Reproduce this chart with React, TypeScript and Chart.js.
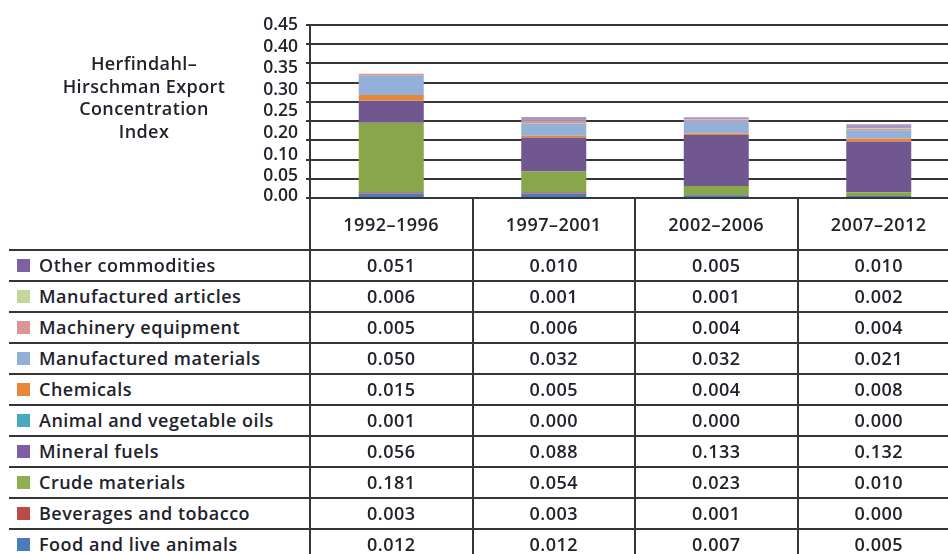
import React, { useEffect, useRef } from 'react';
import { Chart, registerables } from 'chart.js';

Chart.register(...registerables);

// ---------- data ----------
const periods = ['1992–1996', '1997–2001', '2002–2006', '2007–2012'];
const yTickLabels = ['0.45', '0.40', '0.35', '0.30', '0.25', '0.20', '0.10', '0.05', '0.00'];
const yAxisTitle = ['Herfindahl–', 'Hirschman Export', 'Concentration', 'Index'];

const otherCommodities = [0.051, 0.01, 0.005, 0.01];
const manufacturedArticles = [0.006, 0.001, 0.001, 0.002];
const machineryEquipment = [0.005, 0.006, 0.004, 0.004];
const manufacturedMaterials = [0.05, 0.032, 0.032, 0.021];
const chemicals = [0.015, 0.005, 0.004, 0.008];
const animalVegetableOils = [0.001, 0.0, 0.0, 0.0];
const mineralFuels = [0.056, 0.088, 0.133, 0.132];
const crudeMaterials = [0.181, 0.054, 0.023, 0.01];
const beveragesTobacco = [0.003, 0.003, 0.001, 0.0];
const foodLiveAnimals = [0.012, 0.012, 0.007, 0.005];
// the printed first bar stops at machinery equipment
const otherCommoditiesInBars = [0, 0.01, 0.005, 0.01];
const manufacturedArticlesInBars = [0, 0.001, 0.001, 0.002];

type Series = { name: string; values: number[]; bars: number[]; color: string; swatch: string };

// table order (top to bottom)
const series: Series[] = [
  { name: 'Other commodities', values: otherCommodities, bars: otherCommoditiesInBars, color: '#a898c8', swatch: '#7d61a6' },
  { name: 'Manufactured articles', values: manufacturedArticles, bars: manufacturedArticlesInBars, color: '#c3d69b', swatch: '#c3d69b' },
  { name: 'Machinery equipment', values: machineryEquipment, bars: machineryEquipment, color: '#d99694', swatch: '#d99694' },
  { name: 'Manufactured materials', values: manufacturedMaterials, bars: manufacturedMaterials, color: '#93b1d8', swatch: '#93b1d8' },
  { name: 'Chemicals', values: chemicals, bars: chemicals, color: '#e8873a', swatch: '#e8873a' },
  { name: 'Animal and vegetable oils', values: animalVegetableOils, bars: animalVegetableOils, color: '#4aa8bf', swatch: '#4aa8bf' },
  { name: 'Mineral fuels', values: mineralFuels, bars: mineralFuels, color: '#71578f', swatch: '#7b5ea3' },
  { name: 'Crude materials', values: crudeMaterials, bars: crudeMaterials, color: '#89a64b', swatch: '#8fb050' },
  { name: 'Beverages and tobacco', values: beveragesTobacco, bars: beveragesTobacco, color: '#bd4a47', swatch: '#bd4a47' },
  { name: 'Food and live animals', values: foodLiveAnimals, bars: foodLiveAnimals, color: '#4a7cba', swatch: '#4a7cba' },
];

// ---------- layout ----------
const W = 948;
const H = 554;
const PLOT_LEFT = 310;
const COL_W = 162.5;
const PLOT_TOP = 25;
const AXIS_Y = 198;
const CANVAS_W = 980;
const CANVAS_H = 212;
const HEADER_BOTTOM = 250;
const ROW_H = 30.95;
const TABLE_LEFT = 9;
const LINE = '#363636';
const TEXT = '#22222c';
const FONT = '"Open Sans", "Noto Sans", sans-serif';

const cellText: React.CSSProperties = {
  fontSize: 18,
  fontWeight: 600,
  letterSpacing: '0.5px',
  color: TEXT,
};

const yLabelPlugin = {
  id: 'yEvenLabels',
  afterDraw(chart: any) {
    const y = chart.scales.y;
    const top = y.getPixelForValue(parseFloat(yTickLabels[0]));
    const bottom = y.getPixelForValue(parseFloat(yTickLabels[yTickLabels.length - 1]));
    const ctx = chart.ctx;
    ctx.save();
    ctx.font = `600 17.5px ${FONT}`;
    ctx.fillStyle = TEXT;
    ctx.textAlign = 'right';
    ctx.textBaseline = 'middle';
    const step = (bottom - top) / (yTickLabels.length - 1);
    yTickLabels.forEach((t, i) => ctx.fillText(t, y.right - 12, top + i * step - (i === yTickLabels.length - 1 ? 1.5 : 0)));
    ctx.restore();
  },
};

function BarChart() {
  const ref = useRef<HTMLCanvasElement>(null);
  useEffect(() => {
    if (!ref.current) return;
    const datasets = [...series].reverse().map((s) => ({
      label: s.name,
      data: s.bars,
      backgroundColor: s.color,
      borderWidth: 0,
      barPercentage: 0.4,
      categoryPercentage: 1,
    }));
    const chart = new Chart(ref.current, {
      type: 'bar',
      data: { labels: periods, datasets },
      plugins: [yLabelPlugin],
      options: {
        animation: false,
        responsive: false,
        maintainAspectRatio: false,
        layout: {
          padding: { left: 0, top: PLOT_TOP, right: CANVAS_W - PLOT_LEFT - COL_W * 4, bottom: CANVAS_H - AXIS_Y },
        },
        plugins: { legend: { display: false }, tooltip: { enabled: false } },
        scales: {
          x: { stacked: true, display: false },
          y: {
            stacked: true,
            min: 0,
            max: 0.45,
            ticks: { stepSize: 0.05, display: false },
            grid: { color: LINE, lineWidth: 2, tickLength: 4, drawTicks: true },
            border: { display: true, color: LINE, width: 2 },
            afterFit: (s: any) => {
              s.width = PLOT_LEFT;
            },
          },
        },
      },
    });
    return () => chart.destroy();
  }, []);
  return (
    <canvas
      ref={ref}
      width={CANVAS_W}
      height={CANVAS_H}
      style={{ position: 'absolute', left: 0, top: 0, width: CANVAS_W, height: CANVAS_H }}
    />
  );
}

function Table() {
  const els: React.ReactNode[] = [];
  periods.forEach((p, i) => {
    els.push(
      <div
        key={'h' + i}
        style={{
          ...cellText,
          position: 'absolute',
          left: PLOT_LEFT + i * COL_W,
          width: COL_W,
          top: AXIS_Y,
          height: HEADER_BOTTOM - AXIS_Y,
          display: 'flex',
          alignItems: 'center',
          justifyContent: 'center',
        }}
      >
        {p}
      </div>
    );
  });
  for (let r = 0; r <= series.length; r++) {
    els.push(
      <div
        key={'hl' + r}
        style={{ position: 'absolute', left: TABLE_LEFT, width: CANVAS_W, top: HEADER_BOTTOM + r * ROW_H - 1, height: 2, background: LINE }}
      />
    );
  }
  for (let c = 0; c < periods.length; c++) {
    els.push(
      <div
        key={'vl' + c}
        style={{ position: 'absolute', left: PLOT_LEFT + c * COL_W - 1, width: 2, top: AXIS_Y, height: H - AXIS_Y, background: LINE }}
      />
    );
  }
  series.forEach((s, r) => {
    const top = HEADER_BOTTOM + r * ROW_H;
    els.push(
      <div
        key={'lab' + r}
        style={{
          ...cellText,
          position: 'absolute',
          left: 17,
          top,
          height: ROW_H,
          display: 'flex',
          alignItems: 'center',
          whiteSpace: 'nowrap',
        }}
      >
        <span style={{ display: 'inline-block', width: 13, height: 13, background: s.swatch, marginRight: 9 }} />
        {s.name}
      </div>
    );
    s.values.forEach((v, c) => {
      els.push(
        <div
          key={'v' + r + '-' + c}
          style={{
            ...cellText,
            position: 'absolute',
            left: PLOT_LEFT + c * COL_W,
            width: COL_W,
            top,
            height: ROW_H,
            display: 'flex',
            alignItems: 'center',
            justifyContent: 'center',
          }}
        >
          {v.toFixed(3)}
        </div>
      );
    });
  });
  return <>{els}</>;
}

export default function App() {
  return (
    <div
      style={{
        position: 'absolute',
        left: 0,
        top: 0,
        width: W,
        height: H,
        overflow: 'hidden',
        background: '#fff',
        fontFamily: FONT,
      }}
    >
      <BarChart />
      <div
        style={{
          position: 'absolute',
          left: 43,
          width: 202,
          top: 52,
          textAlign: 'center',
          fontSize: 18,
          fontWeight: 600,
          letterSpacing: '0.4px',
          lineHeight: '22.5px',
          color: TEXT,
        }}
      >
        {yAxisTitle.map((t, i) => (
          <div key={i}>{t}</div>
        ))}
      </div>
      <Table />
    </div>
  );
}
